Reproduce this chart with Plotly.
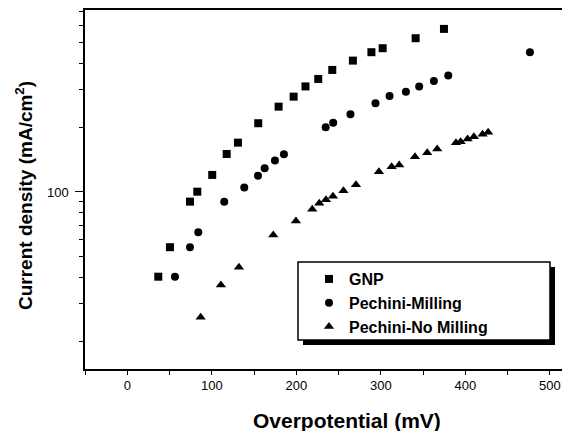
import plotly.graph_objects as go

# ---- data ----
gnp_x = [36.7, 50.5, 74.2, 82.8, 100.5, 117.6, 130.9, 154.9, 179.0, 196.8, 210.8,
         225.9, 242.5, 266.9, 288.8, 302.1, 341.1, 374.6]
gnp_y = [40.2, 55.2, 90.1, 100.3, 120.1, 150.5, 170.0, 209.4, 250.4, 278.8, 311.2,
         337.3, 371.5, 410.8, 449.6, 469.4, 522.6, 577.8]

pm_x = [56.4, 74.2, 84.0, 114.7, 138.4, 154.6, 162.5, 174.7, 185.3, 234.7, 243.6,
        264.0, 293.6, 310.3, 329.6, 345.3, 362.7, 379.7, 476.3]
pm_y = [40.2, 55.2, 64.8, 90.1, 105.0, 119.2, 129.0, 140.1, 150.1, 200.6, 210.8,
        230.7, 259.7, 281.0, 294.2, 310.5, 330.2, 349.6, 449.6]

pn_x = [86.8, 110.8, 132.1, 172.7, 199.5, 218.8, 227.1, 235.0, 243.3, 255.7, 270.5,
        297.7, 312.7, 321.7, 340.3, 354.8, 366.6, 388.8, 394.3, 402.6, 410.0, 420.3, 426.9]
pn_y = [26.0, 36.8, 44.5, 63.0, 73.2, 83.0, 88.6, 92.0, 95.6, 101.4, 108.2,
        124.4, 131.3, 133.7, 146.2, 152.6, 158.8, 170.0, 171.8, 176.9, 181.3, 186.1, 190.1]

x_major = [0, 100, 200, 300, 400, 500]
x_minor = [-50, 50, 150, 250, 350, 450]
y_major = [100]
y_minor = [20, 30, 40, 50, 60, 70, 80, 90, 200, 300, 400, 500, 600, 700]

series_names = ["GNP", "Pechini-Milling", "Pechini-No Milling"]
x_title = "Overpotential (mV)"
y_title = "Current density (mA/cm<sup>2</sup>)"

FONT = "Liberation Sans, Arial, sans-serif"

fig = go.Figure()
fig.add_trace(go.Scatter(x=gnp_x, y=gnp_y, mode="markers", name=series_names[0],
                         marker=dict(symbol="square", size=8, color="black")))
fig.add_trace(go.Scatter(x=pm_x, y=pm_y, mode="markers", name=series_names[1],
                         marker=dict(symbol="circle", size=8, color="black")))
fig.add_trace(go.Scatter(x=pn_x, y=pn_y, mode="markers", name=series_names[2],
                         marker=dict(symbol="triangle-up", size=9, color="black")))

# the page body has an 8px margin, so the figure is 8px smaller and every
# position below is given in screenshot pixels and shifted by OFF
OFF = 8
W, H = 570 - OFF, 431 - OFF
# plot area in screenshot pixels: x 85..570, y 10..369
L, R, T, B = 85 - OFF, 570 - OFF, 10 - OFF, 369 - OFF
def px(x):
    return (x - OFF - L) / (R - L)
def py(y):
    return (B - (y - OFF)) / (B - T)

shapes = [
    # legend shadow
    dict(type="rect", xref="paper", yref="paper", x0=px(303), x1=px(555), y0=py(345), y1=py(267),
         fillcolor="black", line=dict(width=0), layer="above"),
    # legend box
    dict(type="rect", xref="paper", yref="paper", x0=px(298), x1=px(550), y0=py(340), y1=py(262),
         fillcolor="white", line=dict(color="black", width=1.5), layer="above"),
]

annotations = [
    dict(text="<b>" + x_title + "</b>", xref="paper", yref="paper",
         x=px(347), y=py(420), xanchor="center", yanchor="middle", showarrow=False,
         font=dict(size=21, family=FONT, color="black")),
    dict(text="<b>" + y_title + "</b>", xref="paper", yref="paper",
         x=px(24), y=py(196), xanchor="center", yanchor="middle", showarrow=False,
         textangle=-90, font=dict(size=19, family=FONT, color="black")),
]

fig.update_layout(
    width=W, height=H,
    margin=dict(l=L, r=W - R, t=T, b=H - B),
    paper_bgcolor="white", plot_bgcolor="white",
    font=dict(family=FONT, color="black", size=13),
    showlegend=True,
    legend=dict(x=px(309), y=py(262), xanchor="left", yanchor="top",
                bgcolor="rgba(0,0,0,0)", borderwidth=0, tracegroupgap=0,
                font=dict(size=16, family=FONT, weight="bold"),
                itemwidth=30),
    shapes=shapes,
    annotations=annotations,
    xaxis=dict(
        range=[-50, 523.7], showgrid=False, zeroline=False, automargin=False,
        showline=True, linecolor="black", linewidth=1.5, mirror=True,
        ticks="outside", ticklen=4, tickwidth=1, tickcolor="black",
        tickvals=x_major, ticktext=[str(v) for v in x_major],
        tickfont=dict(size=13),
        minor=dict(tickvals=x_minor, ticks="outside", ticklen=4, tickwidth=1, tickcolor="black"),
    ),
    yaxis=dict(
        type="log", range=[1.173, 2.850], showgrid=False, zeroline=False, automargin=False,
        showline=True, linecolor="black", linewidth=1.5, mirror=False,
        ticks="outside", ticklen=8, tickwidth=1, tickcolor="black",
        ticklabelstandoff=4,
        tickvals=y_major, ticktext=["100"],
        tickfont=dict(size=13),
        minor=dict(tickvals=y_minor, ticks="outside", ticklen=4, tickwidth=1, tickcolor="black"),
    ),
)

fig.write_html("out.html")
